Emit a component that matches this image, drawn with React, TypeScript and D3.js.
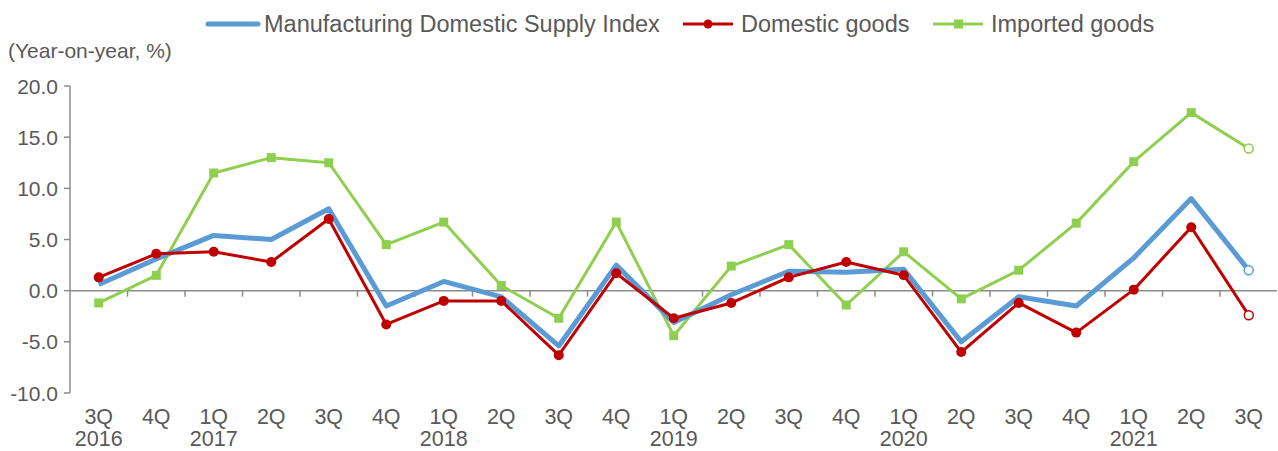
import React from "react";
import * as d3 from "d3";

const quarters = ["3Q","4Q","1Q","2Q","3Q","4Q","1Q","2Q","3Q","4Q","1Q","2Q","3Q","4Q","1Q","2Q","3Q","4Q","1Q","2Q","3Q"];
const years = ["2016","","2017","","","","2018","","","","2019","","","","2020","","","","2021","",""];
const supplyIndex = [0.6,3.1,5.4,5.0,8.0,-1.5,0.9,-0.6,-5.4,2.5,-3.1,-0.4,1.9,1.8,2.1,-5.0,-0.6,-1.5,3.2,9.0,2.0];
const domesticGoods = [1.3,3.6,3.8,2.8,7.0,-3.3,-1.0,-1.0,-6.3,1.7,-2.7,-1.2,1.3,2.8,1.5,-6.0,-1.2,-4.1,0.1,6.2,-2.4];
const importedGoods = [-1.2,1.5,11.5,13.0,12.5,4.5,6.7,0.5,-2.7,6.7,-4.4,2.4,4.5,-1.4,3.8,-0.8,2.0,6.6,12.6,17.4,13.9];
const yTicks = [-10, -5, 0, 5, 10, 15, 20];
const seriesNames = ["Manufacturing Domestic Supply Index", "Domestic goods", "Imported goods"];

const W = 1278, H = 451;
const BLUE = "#5B9BD5", RED = "#C00000", GREEN = "#8FCF4F", AXIS = "#8C8C8C", TEXT = "#595959";
const FONT = "'Liberation Sans', Arial, sans-serif";

export default function App() {
  const idx = quarters.map((_, i) => i);
  const x = d3.scaleBand<number>().domain(idx).range([70, 1277.5]);
  const y = d3.scaleLinear().domain([-10, 20]).range([393, 86]);
  const cx = (i: number) => (x(i) as number) + x.bandwidth() / 2;
  const line = d3.line<number>().x((_, i) => cx(i)).y(v => y(v));
  const last = quarters.length - 1;

  const legendY = 24;
  return (
    <svg width={W} height={H} style={{ position: "absolute", left: 0, top: 0, background: "#fff" }} fontFamily={FONT}>
      {/* Legend */}
      <g>
        <line x1={208} x2={258} y1={legendY} y2={legendY} stroke={BLUE} strokeWidth={5} strokeLinecap="round" />
        <text x={264} y={legendY + 8} fontSize={23.5} fill={TEXT}>{seriesNames[0]}</text>
        <line x1={683} x2={733} y1={legendY} y2={legendY} stroke={RED} strokeWidth={3} />
        <circle cx={708} cy={legendY} r={4.5} fill={RED} />
        <text x={741} y={legendY + 8} fontSize={23.5} fill={TEXT}>{seriesNames[1]}</text>
        <line x1={933} x2={983} y1={legendY} y2={legendY} stroke={GREEN} strokeWidth={3} />
        <rect x={954} y={legendY - 4.5} width={9} height={9} fill={GREEN} />
        <text x={991} y={legendY + 8} fontSize={23.5} fill={TEXT}>{seriesNames[2]}</text>
      </g>
      <text x={8} y={58} fontSize={21} fill={TEXT}>(Year-on-year, %)</text>

      {/* Y axis */}
      <line x1={70} x2={70} y1={86} y2={393} stroke={AXIS} strokeWidth={1.5} />
      {yTicks.map(t => (
        <g key={t}>
          <line x1={64} x2={70} y1={y(t)} y2={y(t)} stroke={AXIS} strokeWidth={1.5} />
          <text x={58} y={y(t) + 7.5} fontSize={21} fill={TEXT} textAnchor="end">{t.toFixed(1)}</text>
        </g>
      ))}

      {/* X axis at zero */}
      <line x1={70} x2={1277} y1={y(0)} y2={y(0)} stroke={AXIS} strokeWidth={1.5} />
      {idx.slice(1).map(i => (
        <line key={i} x1={x(i) as number} x2={x(i) as number} y1={y(0)} y2={y(0) + 6} stroke={AXIS} strokeWidth={1.5} />
      ))}
      {idx.map(i => (
        <g key={i}>
          <text x={cx(i)} y={424} fontSize={21.5} fill={TEXT} textAnchor="middle">{quarters[i]}</text>
          {years[i] && <text x={cx(i)} y={446} fontSize={21.5} fill={TEXT} textAnchor="middle">{years[i]}</text>}
        </g>
      ))}

      {/* Imported goods */}
      <path d={line(importedGoods) || ""} fill="none" stroke={GREEN} strokeWidth={3} strokeLinejoin="round" />
      {importedGoods.map((v, i) => i < last ? (
        <rect key={i} x={cx(i) - 4.5} y={y(v) - 4.5} width={9} height={9} fill={GREEN} />
      ) : (
        <circle key={i} cx={cx(i)} cy={y(v)} r={4.5} fill="#fff" stroke={GREEN} strokeWidth={1.5} />
      ))}

      {/* Supply index */}
      <path d={line(supplyIndex) || ""} fill="none" stroke={BLUE} strokeWidth={5} strokeLinejoin="round" />
      <circle cx={cx(last)} cy={y(supplyIndex[last])} r={4.5} fill="#fff" stroke={BLUE} strokeWidth={1.5} />

      {/* Domestic goods */}
      <path d={line(domesticGoods) || ""} fill="none" stroke={RED} strokeWidth={3} strokeLinejoin="round" />
      {domesticGoods.map((v, i) => i < last ? (
        <circle key={i} cx={cx(i)} cy={y(v)} r={5} fill={RED} />
      ) : (
        <circle key={i} cx={cx(i)} cy={y(v)} r={4.5} fill="#fff" stroke={RED} strokeWidth={1.5} />
      ))}
    </svg>
  );
}
